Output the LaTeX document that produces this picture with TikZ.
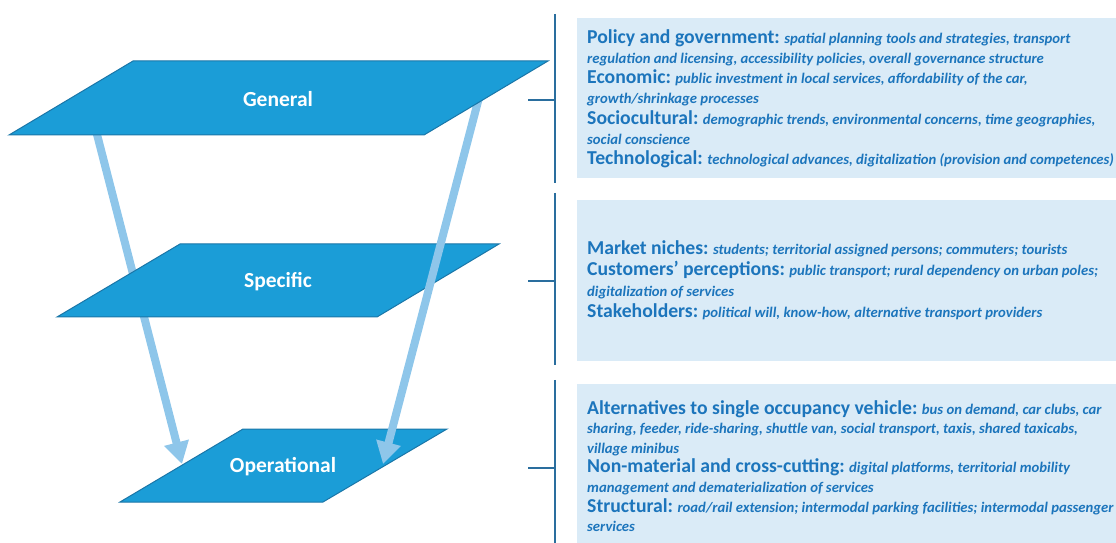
\documentclass[tikz,border=0pt]{standalone}
\usepackage{fontspec}
\setmainfont{Carlito}
\usetikzlibrary{arrows.meta}
\definecolor{planeblue}{HTML}{1B9DD7}
\definecolor{planeedge}{HTML}{1A76A8}
\definecolor{arrowblue}{HTML}{8EC6EA}
\definecolor{boxblue}{HTML}{DAEBF7}
\definecolor{txtblue}{HTML}{1C75BC}
\definecolor{linkblue}{HTML}{2A6E9E}
\newlength{\myskip}
\setlength{\myskip}{20.3bp}
\newcommand{\hd}[1]{{\fontsize{19.7bp}{\myskip}\selectfont\bfseries #1}}
\newcommand{\ds}[1]{{\fontsize{14.7bp}{\myskip}\selectfont\bfseries\itshape #1}}
\begin{document}
\begin{tikzpicture}[x=1bp,y=-1bp,
  plane/.style={fill=planeblue,draw=planeedge,line width=1bp},
  planelabel/.style={text=white,font=\fontsize{21.5bp}{24bp}\selectfont\bfseries,anchor=base,inner sep=0pt},
  flowarrow/.style={draw=arrowblue,line width=8bp,-{Triangle[length=22bp,width=24bp]}},
  infobox/.style={fill=boxblue,draw=none},
  infotext/.style={text=txtblue,align=left,anchor=north west,inner sep=0pt},
  link/.style={draw=linkblue,line width=1.6bp}]
\useasboundingbox (0,0) rectangle (1116,543);
% coordinates
\coordinate (la1) at (92,115);
\coordinate (la2) at (182,464);
\coordinate (ra1) at (481,90);
\coordinate (ra2) at (383,464);
% operational plane
\filldraw[plane] (120,502) -- (323,502) -- (447,429) -- (243,429) -- cycle;
\draw[flowarrow] (la1) -- (la2);
% specific plane
\filldraw[plane] (57,317) -- (377,317) -- (499,244) -- (180,244) -- cycle;
\draw[flowarrow] (ra1) -- (ra2);
% general plane
\filldraw[plane] (9,135) -- (424,135) -- (548,61) -- (133,61) -- cycle;
\node[planelabel] (gen) at (278,107) {General};
\node[planelabel] (spec) at (278,288) {Specific};
\node[planelabel] (oper) at (283,472) {Operational};
% boxes
\fill[infobox] (577,18) rectangle (1116,178);
\fill[infobox] (577,200) rectangle (1116,361);
\fill[infobox] (577,384) rectangle (1116,543);
% brackets
\coordinate (b1t) at (555,14); \coordinate (b1b) at (555,183);
\coordinate (b2t) at (555,193); \coordinate (b2b) at (555,365);
\coordinate (b3t) at (555,380); \coordinate (b3b) at (555,543);
\coordinate (t1a) at (528,100); \coordinate (t1b) at (555,100);
\coordinate (t2a) at (528,281); \coordinate (t2b) at (555,281);
\coordinate (t3a) at (528,468); \coordinate (t3b) at (555,468);
\draw[link] (b1t) -- (b1b);
\draw[link] (b2t) -- (b2b);
\draw[link] (b3t) -- (b3b);
\draw[link] (t1a) -- (t1b);
\draw[link] (t2a) -- (t2b);
\draw[link] (t3a) -- (t3b);
% texts
\node[infotext,font=\fontsize{14.7bp}{20.3bp}\selectfont] (txt1) at (587,29) {\hd{Policy and government:} \ds{spatial planning tools and strategies, transport}\\
\ds{regulation and licensing, accessibility policies, overall governance structure}\\
\hd{Economic:} \ds{public investment in local services, affordability of the car,}\\
\ds{growth/shrinkage processes}\\
\hd{Sociocultural:} \ds{demographic trends, environmental concerns, time geographies,}\\
\ds{social conscience}\\
\hd{Technological:} \ds{technological advances, digitalization (provision and competences)}};
\node[infotext,font=\fontsize{14.7bp}{21bp}\selectfont\setlength{\myskip}{21bp}] (txt2) at (587,240) {\hd{Market niches:} \ds{students; territorial assigned persons; commuters; tourists}\\
\hd{Customers’ perceptions:} \ds{public transport; rural dependency on urban poles;}\\
\ds{digitalization of services}\\
\hd{Stakeholders:} \ds{political will, know-how, alternative transport providers}};
\node[infotext,font=\fontsize{14.7bp}{19.6bp}\selectfont\setlength{\myskip}{19.6bp}] (txt3) at (587,400) {\hd{Alternatives to single occupancy vehicle:} \ds{bus on demand, car clubs, car}\\
\ds{sharing, feeder, ride-sharing, shuttle van, social transport, taxis, shared taxicabs,}\\
\ds{village minibus}\\
\hd{Non-material and cross-cutting:} \ds{digital platforms, territorial mobility}\\
\ds{management and dematerialization of services}\\
\hd{Structural:} \ds{road/rail extension; intermodal parking facilities; intermodal passenger}\\
\ds{services}};
\end{tikzpicture}
\end{document}
